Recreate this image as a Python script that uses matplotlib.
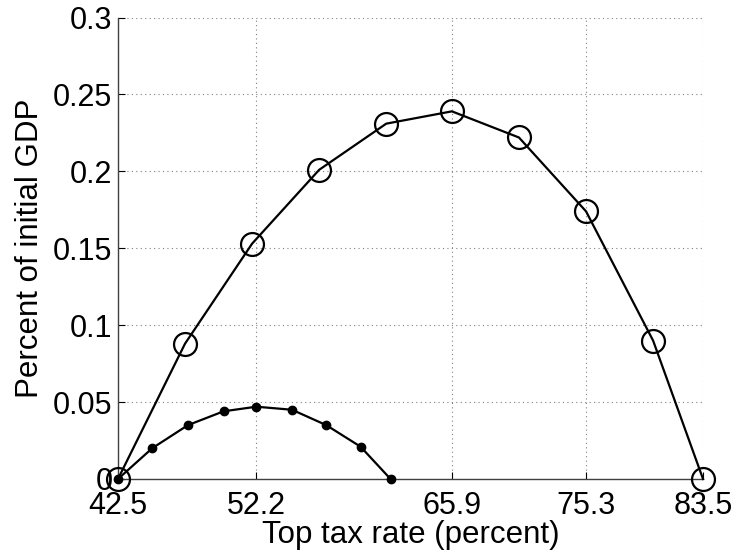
import matplotlib
matplotlib.use("Agg")
import matplotlib.pyplot as plt

plt.rcParams['font.family'] = ['Liberation Sans', 'DejaVu Sans']

# big circles: total revenue curve
rate_big = [42.5, 47.2, 51.9, 56.6, 61.3, 65.9, 70.6, 75.3, 80.0, 83.5]
gdp_big = [0.0, 0.088, 0.153, 0.201, 0.231, 0.239, 0.222, 0.174, 0.090, 0.0]

# small dots
rate_small = [42.5, 44.9, 47.4, 49.9, 52.2, 54.7, 57.1, 59.5, 61.6]
gdp_small = [0.0, 0.020, 0.035, 0.044, 0.047, 0.045, 0.035, 0.021, 0.0]

xticks = [42.5, 52.2, 65.9, 75.3, 83.5]
xticklabels = ['42.5', '52.2', '65.9', '75.3', '83.5']
yticks = [0, 0.05, 0.1, 0.15, 0.2, 0.25, 0.3]
yticklabels = ['0', '0.05', '0.1', '0.15', '0.2', '0.25', '0.3']

fig = plt.figure(figsize=(7.36, 5.56), dpi=100)
ax = fig.add_axes([0.1603, 0.1385, 0.7949, 0.83])

ax.plot(rate_big, gdp_big, color='black', lw=1.6, marker='o', ms=16.5,
        mfc='none', mec='black', mew=1.6, clip_on=False, zorder=3)
ax.plot(rate_small, gdp_small, color='black', lw=1.6, marker='o', ms=6,
        mfc='black', mec='black', clip_on=False, zorder=4)

ax.set_xlim(42.5, 83.5)
ax.set_ylim(0, 0.3)
ax.set_xticks(xticks)
ax.set_xticklabels(xticklabels)
ax.set_yticks(yticks)
ax.set_yticklabels(yticklabels)

ax.grid(True, linestyle=(0, (1, 3)), color='#808080', lw=0.8)
ax.set_axisbelow(True)
for s in ['top', 'right']:
    ax.spines[s].set_visible(False)
for s in ['left', 'bottom']:
    ax.spines[s].set_color('#404040')
    ax.spines[s].set_linewidth(1.0)

ax.tick_params(direction='in', length=5, width=0.8, labelsize=22)
ax.tick_params(axis='x', pad=9)
ax.tick_params(axis='y', pad=4)
ax.set_xlabel('Top tax rate (percent)', fontsize=22.5, labelpad=-1)
ax.set_ylabel('Percent of initial GDP', fontsize=22.5, labelpad=6)

fig.savefig('out.png', dpi=100)
